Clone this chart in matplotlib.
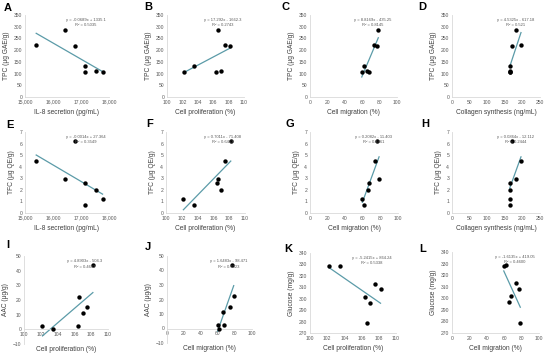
import numpy as np
import matplotlib
matplotlib.use("Agg")
import matplotlib.pyplot as plt
from matplotlib.ticker import FuncFormatter

plt.rcParams['font.family'] = ['Liberation Sans', 'DejaVu Sans']

# one value per sample (7 samples)
il8 = [15400, 16420, 16790, 17150, 17150, 17550, 17770]
prolif = [107.5, 106.6, 108.2, 106.4, 103.5, 107.0, 102.2]
migration = [74.0, 78.5, 76.5, 67.5, 61.5, 65.5, 59.5]
collagen = [196, 181, 171, 166, 165, 166, 164]

tpc = [224, 287, 217, 107, 132, 111, 106]
tfc = [4.5, 2.9, 6.25, 2.6, 0.7, 2.0, 1.25]
aac = [15.0, 22.3, 43.7, 2.4, 0.0, 11.1, 2.2]
glucose = [313.0, 279.0, 308.2, 301.8, 328.9, 296.6, 328.2]

equations = ["y = -0.0689x + 1335.1", "y = 17.292x - 1662.3", "y = 8.8169x - 435.25", "y = 4.5325x - 617.18",
             "y = -0.0014x + 27.364", "y = 0.7011x - 71.408", "y = 0.2082x - 11.403", "y = 0.0864x - 12.112",
             "y = 4.8903x - 504.3", "y = 1.6483x - 98.471", "y = -5.2415x + 864.24", "y = -1.6135x + 419.05"]
r2 = ["0.5035", "0.2743", "0.8145", "0.521",
      "0.3549", "0.6413", "0.4461", "0.2444",
      "0.4652", "0.6323", "0.5338", "0.4600"]

x_label = {"il8": "IL-8 secretion (pg/mL)", "prolif": "Cell proliferation (%)",
           "mig": "Cell migration (%)", "col": "Collagen synthesis (ng/mL)"}
x_data = {"il8": il8, "prolif": prolif, "mig": migration, "col": collagen}
x_ticks = {"il8": [15000, 16000, 17000, 18000], "prolif": [100, 102, 104, 106, 108, 110],
           "mig": [0, 20, 40, 60, 80, 100], "col": [0, 50, 100, 150, 200, 250]}

y_label = {"tpc": "TPC (\u03bcg GAE/g)", "tfc": "TFC (\u03bcg QE/g)", "aac": "AAC (\u03bcg/g)", "glu": "Glucose (mg/g)"}
y_data = {"tpc": tpc, "tfc": tfc, "aac": aac, "glu": glucose}
y_ticks = {"tpc": list(range(0, 351, 50)), "tfc": list(range(0, 8)),
           "aac": list(range(-10, 51, 10)), "glu": list(range(270, 341, 10))}

panels = [("A", "il8", "tpc"), ("B", "prolif", "tpc"), ("C", "mig", "tpc"), ("D", "col", "tpc"),
          ("E", "il8", "tfc"), ("F", "prolif", "tfc"), ("G", "mig", "tfc"), ("H", "col", "tfc"),
          ("I", "prolif", "aac"), ("J", "mig", "aac"), ("K", "prolif", "glu"), ("L", "mig", "glu")]

# plot boxes in pixels: left, right, top, bottom
col_x = [[(25, 109), (167, 244), (310, 397), (452, 540)],
         [(25, 109), (166, 245), (310, 398), (452, 540)],
         [(24, 108), (167, 252), (310, 396), (452, 539)]]
row_y = [[(15, 97)] * 4, [(132, 213)] * 4, [(256, 344), (256, 343), (253, 333), (252, 333)]]
letter_pos = [(8, 8), (148, 7), (286, 7), (422, 7), (10, 125), (150, 124), (290, 124), (425, 124),
              (8, 245), (148, 247), (288, 249), (423, 249)]

W, H = 550, 355
fig = plt.figure(figsize=(5.5, 3.55), dpi=100)

for i, (letter, xk, yk) in enumerate(panels):
    r, c = divmod(i, 4)
    x0, x1 = col_x[r][c]
    y0, y1 = row_y[r][c]
    ax = fig.add_axes([x0 / W, 1 - y1 / H, (x1 - x0) / W, (y1 - y0) / H])
    xs = np.array(x_data[xk], dtype=float)
    ys = np.array(y_data[yk], dtype=float)

    ax.scatter(xs, ys, s=10, color="black", zorder=3, linewidths=0)
    k, b = np.polyfit(xs, ys, 1)
    xl = np.array([xs.min(), xs.max()])
    ax.plot(xl, k * xl + b, color="#5b9ba8", lw=0.9, zorder=2)

    xt, yt = x_ticks[xk], y_ticks[yk]
    ax.set_xlim(xt[0], xt[-1])
    ax.set_ylim(yt[0], yt[-1])
    ax.set_xticks(xt)
    ax.set_yticks(yt)
    if xk == "il8":
        ax.xaxis.set_major_formatter(FuncFormatter(lambda v, p: f"{int(v):,}"))
    ax.tick_params(length=0, labelsize=3.6, labelcolor="#595959", pad=2)
    for s in ["top", "right"]:
        ax.spines[s].set_visible(False)
    for s in ["left", "bottom"]:
        ax.spines[s].set_color("#d9d9d9")
        ax.spines[s].set_linewidth(0.6)
    if yk == "aac":
        ax.spines["bottom"].set_position(("data", 0))
    ax.set_xlabel(x_label[xk], fontsize=4.8, color="#404040", labelpad=3)
    ax.set_ylabel(y_label[yk], fontsize=4.8, color="#404040", labelpad=3)
    if yk == "aac":
        ax.xaxis.set_label_coords(0.5, -0.02)

    ax.text(0.72, 0.93, equations[i], transform=ax.transAxes, fontsize=3, color="#595959", ha="center")
    ax.text(0.72, 0.86, "R\u00b2 = " + r2[i], transform=ax.transAxes, fontsize=3, color="#595959", ha="center")

    lx, ly = letter_pos[i]
    fig.text(lx / W, 1 - ly / H, letter, fontsize=8, fontweight="bold", ha="center", va="center")

fig.savefig("out.png", dpi=100, facecolor="white")
